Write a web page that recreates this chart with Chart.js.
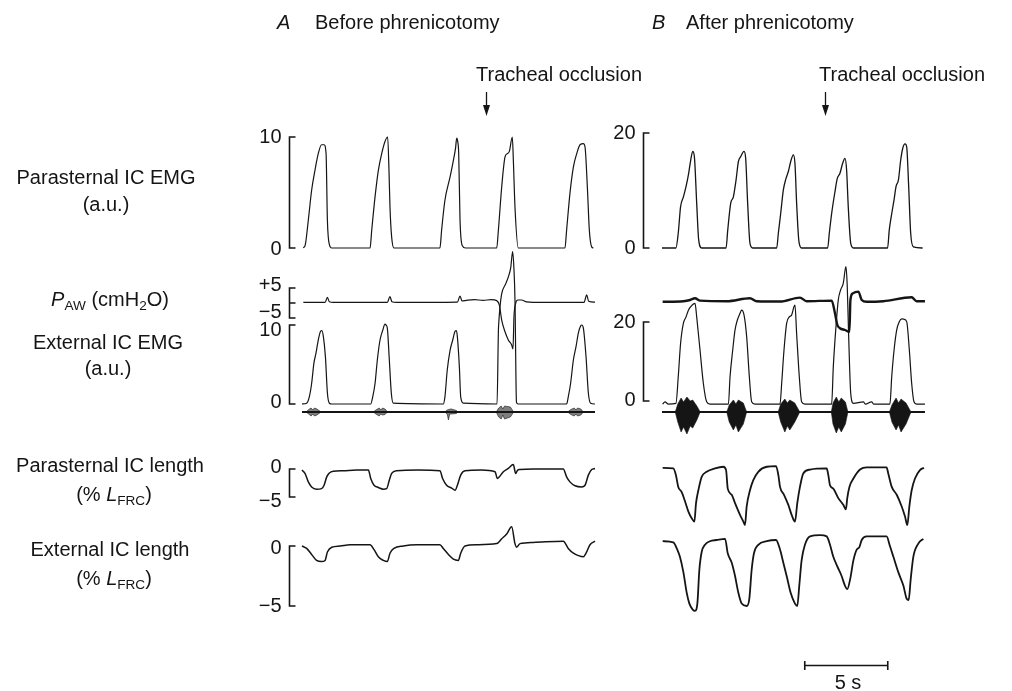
<!DOCTYPE html>
<html>
<head>
<meta charset="utf-8">
<script src="https://cdn.jsdelivr.net/npm/chart.js@4.4.1/dist/chart.umd.min.js"></script>
<style>
  html, body { margin: 0; padding: 0; background: #fff; }
  #wrap { position: relative; width: 1012px; height: 691px; overflow: hidden; font-family: "Liberation Sans", Arial, Helvetica, sans-serif; color: #151515; }
  #trace { position: absolute; left: 0; top: 0; }
  .lbl { position: absolute; font-size: 20px; white-space: nowrap; transform: translate(-50%, -50%); line-height: 1; }
  .lft { transform: translate(0, -50%); }
  sub { font-size: 0.68em; vertical-align: -0.3em; line-height: 0; }
</style>
</head>
<body>
<div id="wrap">
  <canvas id="trace" width="1012" height="691"></canvas>
  <div class="lbl lft" style="left:277px;top:22px"><i>A</i></div>
  <div class="lbl lft" style="left:315px;top:22px">Before phrenicotomy</div>
  <div class="lbl lft" style="left:652px;top:22px"><i>B</i></div>
  <div class="lbl lft" style="left:686px;top:22px">After phrenicotomy</div>
  <div class="lbl lft" style="left:476px;top:74px">Tracheal occlusion</div>
  <div class="lbl lft" style="left:819px;top:74px">Tracheal occlusion</div>
  <div class="lbl" style="left:106px;top:177px">Parasternal IC EMG</div>
  <div class="lbl" style="left:106px;top:204px">(a.u.)</div>
  <div class="lbl" style="left:110px;top:299px"><i>P</i><sub>AW</sub> (cmH<sub>2</sub>O)</div>
  <div class="lbl" style="left:108px;top:342px">External IC EMG</div>
  <div class="lbl" style="left:108px;top:368px">(a.u.)</div>
  <div class="lbl" style="left:110px;top:465px">Parasternal IC length</div>
  <div class="lbl" style="left:114px;top:494px">(% <i>L</i><sub>FRC</sub>)</div>
  <div class="lbl" style="left:110px;top:549px">External IC length</div>
  <div class="lbl" style="left:114px;top:578px">(% <i>L</i><sub>FRC</sub>)</div>
  <div class="lbl" style="left:848px;top:682px">5 s</div>
</div>
<script>
// time in s from the start of each panel, values in the units of each bracket
const psEmgA = [[0.08,0],[0.2,0.3],[0.38,2.5],[0.58,5.2],[0.78,7.0],[0.98,8.5],[1.18,9.3],[1.33,9.3],[1.45,8.5],[1.53,2.5],[1.65,0.3],[1.79,0],
  [4.10,0],[4.20,1.6],[4.40,4.6],[4.60,7.0],[4.80,8.5],[5.00,9.6],[5.16,10.0],[5.24,7.0],[5.30,3.7],[5.40,1.0],[5.54,0],
  [8.31,0],[8.41,1.6],[8.61,4.3],[8.92,6.4],[9.12,7.9],[9.25,9.0],[9.32,9.9],[9.38,9.6],[9.44,8.5],[9.52,2.5],[9.66,0.2],[9.85,0],
  [11.73,0],[11.83,1.6],[12.03,5.5],[12.23,8.2],[12.37,8.5],[12.49,8.7],[12.67,10.0],[12.73,8.0],[12.83,3.7],[13.03,0],
  [15.84,0],[15.94,1.6],[16.14,4.9],[16.35,7.3],[16.55,8.5],[16.75,9.3],[16.95,9.4],[17.05,9.1],[17.19,5.5],[17.31,1.6],[17.45,0.1],[17.55,0]];

const pawA = [[0.08,0.2],[1.39,0.2],[1.53,1.9],[1.65,0.4],[1.9,0.2],[5.14,0.2],[5.30,2.1],[5.42,0.4],[5.7,0.2],
  [9.36,0.3],[9.52,2.3],[9.64,0.7],[9.92,0.9],[10.4,1.1],[10.9,0.9],[11.4,1.1],[11.73,0.8],[11.89,-0.7],[12.03,-5.7],
  [12.23,-9.6],[12.43,-12.3],[12.63,-14.0],[12.71,-15.3],[12.77,-4.6],[12.87,-0.1],[13.0,1.0],[13.23,1.0],[13.53,0.4],
  [14.5,0.2],[16.99,0.2],[17.15,2.7],[17.27,0.6],[17.65,0.3]];

const extEmgA = [[0,0],[0.28,0.1],[0.44,0.9],[0.58,2.6],[0.72,5.2],[0.84,6.4],[0.98,8.1],[1.12,9.2],[1.20,9.3],[1.29,8.5],[1.41,6.0],[1.53,1.4],[1.65,0.1],[1.79,0],
  [4.14,0],[4.26,0.9],[4.40,2.6],[4.54,5.6],[4.70,8.1],[4.86,9.3],[5.00,10.1],[5.06,10.0],[5.14,9.6],[5.26,5.6],[5.38,1.4],[5.50,0.1],
  [8.51,0],[8.61,0.9],[8.75,4.3],[8.92,6.8],[9.08,8.1],[9.22,9.2],[9.30,9.3],[9.36,8.5],[9.48,4.7],[9.56,0.9],[9.72,0.1],
  [11.75,0],[11.84,9.8],[12.29,15.3],[12.43,16.1],[12.57,17.2],[12.69,19.3],[12.77,17.0],[12.83,13.2],[12.92,0.2],[13.01,0],
  [15.94,0],[16.04,0.9],[16.18,2.6],[16.35,5.6],[16.51,7.3],[16.65,9.0],[16.79,9.9],[16.85,10.0],[16.95,9.6],[17.11,6.0],[17.25,1.4],[17.39,0.1],[17.65,0]];

const rawHiA = [[0,0],[0.25,0],[0.4,2.5],[0.55,4],[0.65,2],[0.75,4],[0.9,3],[1.15,0],[4.3,0],[4.45,2],[4.65,4],[4.75,2],[4.85,4],[5.0,3],[5.15,0],
  [8.6,0],[8.75,2],[8.82,2.5],[8.9,2.8],[9.0,3],[9.3,1.5],[9.4,0],[11.7,0],[11.85,4],[12.0,6],[12.1,3],[12.2,6],[12.55,5],[12.75,0],
  [16.0,0],[16.2,2.5],[16.4,4],[16.5,2],[16.6,4],[16.8,3],[16.95,0],[17.65,0]];
const rawLoA = [[0,0],[0.25,0],[0.4,-2],[0.55,-4],[0.65,-2],[0.75,-4],[0.9,-3],[1.15,0],[4.3,0],[4.45,-2],[4.65,-4],[4.75,-2],[4.85,-3],[5.0,-2.5],[5.15,0],
  [8.6,0],[8.75,-2],[8.82,-8],[8.9,-2],[9.0,-2],[9.3,-1.5],[9.4,0],[11.7,0],[11.85,-5],[12.0,-7],[12.1,-3],[12.2,-7],[12.55,-5],[12.75,0],
  [16.0,0],[16.2,-2.5],[16.4,-4],[16.5,-2],[16.6,-4],[16.8,-3],[16.95,0],[17.65,0]];

const psLenA = [[0,-0.2],[0.18,-0.8],[0.38,-2.3],[0.58,-3.2],[0.88,-3.6],[1.18,-3.5],[1.33,-2.9],[1.49,-1.4],[1.65,-0.7],[1.89,-0.4],[2.5,-0.3],[3.3,-0.2],
  [4.00,-0.2],[4.14,-1.7],[4.34,-2.9],[4.60,-3.3],[4.90,-3.6],[5.10,-3.5],[5.26,-2.0],[5.40,-0.8],[5.70,-0.3],[7.0,-0.2],
  [8.31,-0.3],[8.47,-1.7],[8.71,-2.9],[9.02,-3.4],[9.22,-3.8],[9.36,-2.9],[9.56,-1.1],[9.82,-0.3],[10.8,-0.2],
  [11.63,-0.5],[11.77,-1.7],[11.89,-1.4],[12.13,-0.5],[12.43,0.1],[12.73,0.8],[12.87,-0.8],[12.99,-0.2],[13.13,-0.1],[13.94,0],
  [15.74,0],[15.94,-1.4],[16.14,-2.3],[16.45,-3.0],[16.85,-3.2],[17.05,-2.9],[17.25,-1.1],[17.45,-0.1],[17.65,0.1]];

const extLenA = [[0,0],[0.28,-0.2],[0.58,-0.7],[0.88,-1.2],[1.18,-1.3],[1.39,-1.2],[1.53,-0.5],[1.79,-0.1],[2.29,0],[2.89,0.1],
  [4.10,0.1],[4.34,-0.3],[4.60,-0.9],[4.90,-1.2],[5.14,-1.3],[5.30,-0.6],[5.54,-0.2],[6.10,0],[6.91,0.1],
  [8.31,0.1],[8.51,-0.2],[8.82,-0.7],[9.12,-1.1],[9.42,-1.2],[9.56,-0.6],[9.82,0],[10.52,0.1],
  [11.73,0.2],[12.03,0.6],[12.33,1.0],[12.63,1.6],[12.83,0.2],[12.93,-0.1],[13.13,0.2],[13.94,0.3],
  [15.74,0.4],[16.04,-0.2],[16.35,-0.6],[16.65,-0.8],[16.95,-0.9],[17.11,-0.6],[17.35,0.1],[17.65,0.4]];

const psEmgB = [[0,0],[0.84,0],[0.98,2.6],[1.12,7.2],[1.29,8.9],[1.45,10.7],[1.59,12.7],[1.73,15.3],[1.85,16.8],[1.95,15.9],[2.09,7.8],[2.21,1.4],[2.39,0],
  [3.86,0],[3.96,3.1],[4.14,7.8],[4.30,8.9],[4.46,11.8],[4.60,15.0],[4.74,15.9],[4.94,16.8],[5.04,15.6],[5.16,7.8],[5.30,0.8],[5.46,0],
  [6.91,0],[7.01,2.6],[7.15,6.0],[7.31,10.1],[7.47,12.1],[7.61,13.3],[7.75,15.0],[7.91,16.2],[8.01,14.7],[8.11,7.8],[8.25,1.1],[8.41,0],
  [9.98,0],[10.08,2.6],[10.22,6.0],[10.42,9.8],[10.56,12.1],[10.72,13.0],[10.88,14.7],[11.02,15.6],[11.12,13.6],[11.22,7.2],[11.37,0.8],[11.53,0],
  [13.59,0],[13.69,3.1],[13.84,6.0],[13.98,8.4],[14.10,10.7],[14.24,11.8],[14.38,15.3],[14.50,17.3],[14.64,18.1],[14.74,17.6],[14.86,10.7],[14.98,2.6],[15.14,0.2],[15.70,0]];

const pawB = [[0.04,0.4],[1.29,0.6],[1.69,1.0],[1.99,1.6],[2.29,0.8],[3.9,0.6],[5.30,1.6],[5.70,0.6],[7.11,0.5],[8.31,1.8],[8.71,0.6],
  [10.22,0.8],[10.42,-3.4],[10.56,-7.3],[10.72,-8.4],[11.02,-9.0],[11.29,-9.6],[11.35,1.0],[11.49,3.2],[11.83,3.8],[12.03,1.0],
  [12.33,0.4],[13.33,0.6],[15.04,1.9],[15.34,0.6],[15.84,0.6]];

const extEmgB = [[0.04,-0.8],[0.18,-0.2],[0.38,-0.8],[0.84,-0.6],[0.98,6.2],[1.12,14.6],[1.29,19.7],[1.45,21.3],[1.59,23.0],[1.73,23.9],[1.99,24.7],[2.09,21.3],[2.29,12.9],[2.49,4.5],[2.69,-0.2],[2.89,-0.8],
  [4.00,-0.8],[4.10,6.2],[4.26,12.9],[4.40,18.0],[4.54,20.5],[4.70,22.2],[4.80,23.0],[4.94,21.8],[5.10,16.3],[5.26,6.2],[5.40,-0.2],[5.60,-0.8],
  [7.11,-0.8],[7.21,4.5],[7.35,12.9],[7.51,19.7],[7.67,21.3],[7.81,21.8],[7.95,23.9],[8.01,24.3],[8.11,17.1],[8.27,6.2],[8.41,-0.2],[8.61,-0.8],
  [10.22,-0.8],[10.32,8.7],[10.48,18.8],[10.62,25.6],[10.76,28.1],[10.92,29.8],[11.08,34.0],[11.16,29.0],[11.24,17.1],[11.37,1.9],[11.53,-0.6],[12.13,-0.2],[12.25,-0.8],[12.63,-0.2],[12.75,-0.8],
  [13.73,-0.8],[13.84,6.2],[13.98,12.9],[14.14,18.0],[14.30,20.1],[14.44,20.8],[14.58,20.7],[14.74,20.1],[14.90,12.9],[15.04,4.5],[15.18,-0.2],[15.34,-0.8],[15.84,-0.8]];

const rawHiB = [[0,0],[0.8,0],[0.95,8],[1.15,14],[1.3,10],[1.5,15],[1.7,11],[1.85,12],[2.1,6],[2.3,0],[3.9,0],[4.05,7],[4.3,12],[4.45,8],[4.6,12],[4.9,9],[5.1,0],
  [7.0,0],[7.15,8],[7.4,13],[7.55,9],[7.7,12],[8.0,9],[8.3,0],[10.2,0],[10.3,9],[10.5,15],[10.65,10],[10.8,14],[11.05,10],[11.2,0],
  [13.7,0],[13.85,7],[14.1,14],[14.25,9],[14.4,13],[14.7,9],[15.0,0],[15.84,0]];
const rawLoB = [[0,0],[0.8,0],[0.95,-10],[1.15,-20],[1.3,-15],[1.5,-22],[1.7,-14],[1.85,-16],[2.1,-8],[2.3,0],[3.9,0],[4.05,-10],[4.3,-18],[4.45,-13],[4.6,-20],[4.9,-12],[5.1,0],
  [7.0,0],[7.15,-10],[7.4,-20],[7.55,-14],[7.7,-18],[8.0,-10],[8.3,0],[10.2,0],[10.3,-12],[10.5,-21],[10.65,-15],[10.8,-20],[11.05,-12],[11.2,0],
  [13.7,0],[13.85,-10],[14.1,-18],[14.25,-13],[14.4,-20],[14.7,-12],[15.0,0],[15.84,0]];

const psLenB = [[0.04,0.2],[0.68,0.1],[0.84,-1.1],[0.98,-3.2],[1.18,-4.1],[1.39,-5.8],[1.59,-7.6],[1.79,-8.8],[1.95,-9.4],[2.05,-6.1],[2.19,-3.8],[2.39,-1.4],[2.69,-0.5],[3.19,0.1],[3.69,0.4],
  [3.86,-0.2],[3.96,-3.5],[4.20,-4.6],[4.40,-6.1],[4.70,-8.2],[4.90,-9.4],[5.00,-10.0],[5.10,-6.7],[5.30,-3.8],[5.50,-2.0],[5.80,-0.5],[6.31,0.4],[6.87,0.5],
  [7.01,-1.1],[7.11,-3.2],[7.35,-4.6],[7.61,-6.4],[7.81,-8.2],[8.01,-9.4],[8.15,-6.1],[8.31,-3.2],[8.51,-0.8],[8.92,-0.1],[9.92,0.1],
  [10.02,-1.1],[10.12,-2.9],[10.32,-3.5],[10.62,-5.2],[10.92,-6.4],[11.08,-7.2],[11.16,-5.2],[11.29,-3.2],[11.53,-1.7],[11.93,-0.1],[12.33,0.3],[13.53,0.3],
  [13.63,-0.8],[13.84,-3.2],[14.14,-4.6],[14.44,-6.7],[14.64,-8.5],[14.78,-10.0],[14.90,-6.7],[15.04,-3.8],[15.24,-1.7],[15.54,-0.2],[15.78,0.2]];

const extLenB = [[0.04,0.4],[0.68,0.3],[0.92,-0.3],[1.08,-0.9],[1.29,-2.2],[1.49,-3.9],[1.65,-4.8],[1.85,-5.3],[1.99,-5.4],[2.13,-4.8],[2.25,-2.0],[2.39,-0.5],[2.59,0.1],[2.89,0.4],[3.29,0.5],[3.80,0.6],
  [3.96,-0.6],[4.20,-1.4],[4.40,-2.5],[4.60,-3.9],[4.80,-4.8],[5.10,-5.0],[5.26,-4.4],[5.40,-2.0],[5.54,-0.6],[5.80,0.1],[6.31,0.4],[6.87,0.5],
  [7.11,-0.3],[7.31,-1.4],[7.51,-2.5],[7.75,-3.9],[8.01,-4.8],[8.15,-5.0],[8.27,-3.3],[8.41,-1.2],[8.61,0.1],[8.92,0.8],[9.52,0.9],[9.92,0.8],
  [10.12,0.1],[10.32,-0.9],[10.56,-1.7],[10.82,-2.5],[11.02,-3.3],[11.16,-3.6],[11.33,-2.8],[11.53,-1.2],[11.73,-0.3],[11.89,-0.1],[12.03,0.5],[12.33,0.8],[13.53,0.8],
  [13.73,0],[13.94,-0.9],[14.24,-2.2],[14.54,-3.3],[14.74,-4.4],[14.86,-4.5],[14.98,-2.8],[15.14,-0.9],[15.44,0.2],[15.74,0.6]];

const OCCLUSION_A = 11.1;   // s, panel A
const OCCLUSION_B = 9.8;    // s, panel B
const SCALE_BAR = [8.6, 13.6]; // 5 s, drawn on panel B time base

// ---- layout: where each channel sits on the page ----
const W = 1012, H = 691, PX_PER_S = 16.6;
const INK = "#151515";

function xRange(x0) {
  const min = -x0 / PX_PER_S;
  return { min, max: min + W / PX_PER_S };
}
// value v0 at pixel p0, v1 at pixel p1
function yRange(v0, p0, v1, p1) {
  const k = (p1 - p0) / (v0 - v1);
  const max = v0 + p0 / k;
  return { min: max - H / k, max };
}

const axes = {
  xA: xRange(302), xB: xRange(662),
  yPsA: yRange(10, 137, 0, 248),
  yPsB: yRange(20, 133, 0, 248),
  yPaw: yRange(5, 288, -5, 318),
  yExtA: yRange(10, 325, 0, 404),
  yExtB: yRange(20, 322, 0, 401),
  yRaw: yRange(10, 402, -10, 422),
  yPsLen: yRange(0, 469, -5, 497),
  yExtLen: yRange(0, 546, -5, 606),
};
const scales = {};
Object.entries(axes).forEach(([id, r]) => {
  scales[id] = { type: "linear", display: false, min: r.min, max: r.max, axis: id[0] };
});

const brackets = [
  { x: "xA", y: "yPsA", dx: -13, ticks: [0, 10], labels: ["0", "10"], ldy: [1, 0] },
  { x: "xA", y: "yPaw", dx: -13, ticks: [-5, 0, 5], labels: ["\u22125", "", "+5"], ldy: [-6, 0, -3] },
  { x: "xA", y: "yExtA", dx: -13, ticks: [0, 10], labels: ["0", "10"], ldy: [-2, 5] },
  { x: "xA", y: "yPsLen", dx: -13, ticks: [-5, 0], labels: ["\u22125", "0"], ldy: [4, -2] },
  { x: "xA", y: "yExtLen", dx: -13, ticks: [-5, 0], labels: ["\u22125", "0"], ldy: [0, 2] },
  { x: "xB", y: "yPsB", dx: -19, ticks: [0, 20], labels: ["0", "20"], ldy: [0, 0] },
  { x: "xB", y: "yExtB", dx: -19, ticks: [0, 20], labels: ["0", "20"], ldy: [-1, 0] },
];

const overlay = {
  id: "overlay",
  afterDatasetsDraw(chart) {
    const { ctx } = chart;
    const sc = chart.scales;
    ctx.save();
    ctx.strokeStyle = INK;
    ctx.fillStyle = INK;
    ctx.lineWidth = 1.6;
    ctx.font = '20px "Liberation Sans", Arial, sans-serif';
    ctx.textAlign = "right";
    ctx.textBaseline = "middle";
    brackets.forEach((b) => {
      const ys = sc[b.y];
      const bx = Math.round(sc[b.x].getPixelForValue(0) + b.dx) + 0.5;
      const pts = b.ticks.map((v) => ys.getPixelForValue(v));
      ctx.beginPath();
      ctx.moveTo(bx, Math.min(...pts));
      ctx.lineTo(bx, Math.max(...pts));
      pts.forEach((p) => { ctx.moveTo(bx - 0.8, p); ctx.lineTo(bx + 6, p); });
      ctx.stroke();
      b.labels.forEach((txt, i) => { if (txt) ctx.fillText(txt, bx - 8, pts[i] + b.ldy[i]); });
    });

    // occlusion arrows
    [[sc.xA, OCCLUSION_A], [sc.xB, OCCLUSION_B]].forEach(([s, t]) => {
      const x = Math.round(s.getPixelForValue(t)) + 0.5;
      ctx.lineWidth = 1.3;
      ctx.beginPath();
      ctx.moveTo(x, 92);
      ctx.lineTo(x, 108);
      ctx.stroke();
      ctx.beginPath();
      ctx.moveTo(x - 3.5, 105);
      ctx.lineTo(x + 3.5, 105);
      ctx.lineTo(x, 116);
      ctx.closePath();
      ctx.fill();
    });

    // time scale bar
    const x1 = sc.xB.getPixelForValue(SCALE_BAR[0]);
    const x2 = sc.xB.getPixelForValue(SCALE_BAR[1]);
    ctx.lineWidth = 1.6;
    ctx.beginPath();
    ctx.moveTo(x1, 665.5); ctx.lineTo(x2, 665.5);
    ctx.moveTo(x1, 661); ctx.lineTo(x1, 670);
    ctx.moveTo(x2, 661); ctx.lineTo(x2, 670);
    ctx.stroke();
    ctx.restore();
  },
};

function trace(data, x, y, width) {
  return { data, xAxisID: x, yAxisID: y, borderColor: INK, borderWidth: width, pointRadius: 0, fill: false, cubicInterpolationMode: "monotone" };
}
function burstHi(data, x) {
  return { data, xAxisID: x, yAxisID: "yRaw", borderColor: INK, borderWidth: 0.6, pointRadius: 0, fill: false };
}
function burstLo(data, x, shade) {
  return { data, xAxisID: x, yAxisID: "yRaw", borderColor: INK, borderWidth: 0.6, pointRadius: 0, fill: "-1", backgroundColor: shade };
}
const baselineA = [[0, 0], [17.65, 0]];
const baselineB = [[0, 0], [15.84, 0]];

new Chart(document.getElementById("trace"), {
  type: "line",
  data: {
    datasets: [
      trace(psEmgA, "xA", "yPsA", 1.2),
      trace(pawA, "xA", "yPaw", 1.2),
      trace(extEmgA, "xA", "yExtA", 1.2),
      burstHi(rawHiA, "xA"),
      burstLo(rawLoA, "xA", "rgba(21,21,21,0.55)"),
      trace(baselineA, "xA", "yRaw", 2),
      trace(psLenA, "xA", "yPsLen", 1.5),
      trace(extLenA, "xA", "yExtLen", 1.5),
      trace(psEmgB, "xB", "yPsB", 1.3),
      trace(pawB, "xB", "yPaw", 2.4),
      trace(extEmgB, "xB", "yExtB", 1.2),
      burstHi(rawHiB, "xB"),
      burstLo(rawLoB, "xB", INK),
      trace(baselineB, "xB", "yRaw", 2),
      trace(psLenB, "xB", "yPsLen", 1.8),
      trace(extLenB, "xB", "yExtLen", 1.8),
    ],
  },
  options: {
    responsive: false,
    animation: false,
    events: [],
    layout: { padding: 0 },
    plugins: { legend: { display: false }, tooltip: { enabled: false } },
    scales,
  },
  plugins: [overlay],
});
</script>
</body>
</html>
